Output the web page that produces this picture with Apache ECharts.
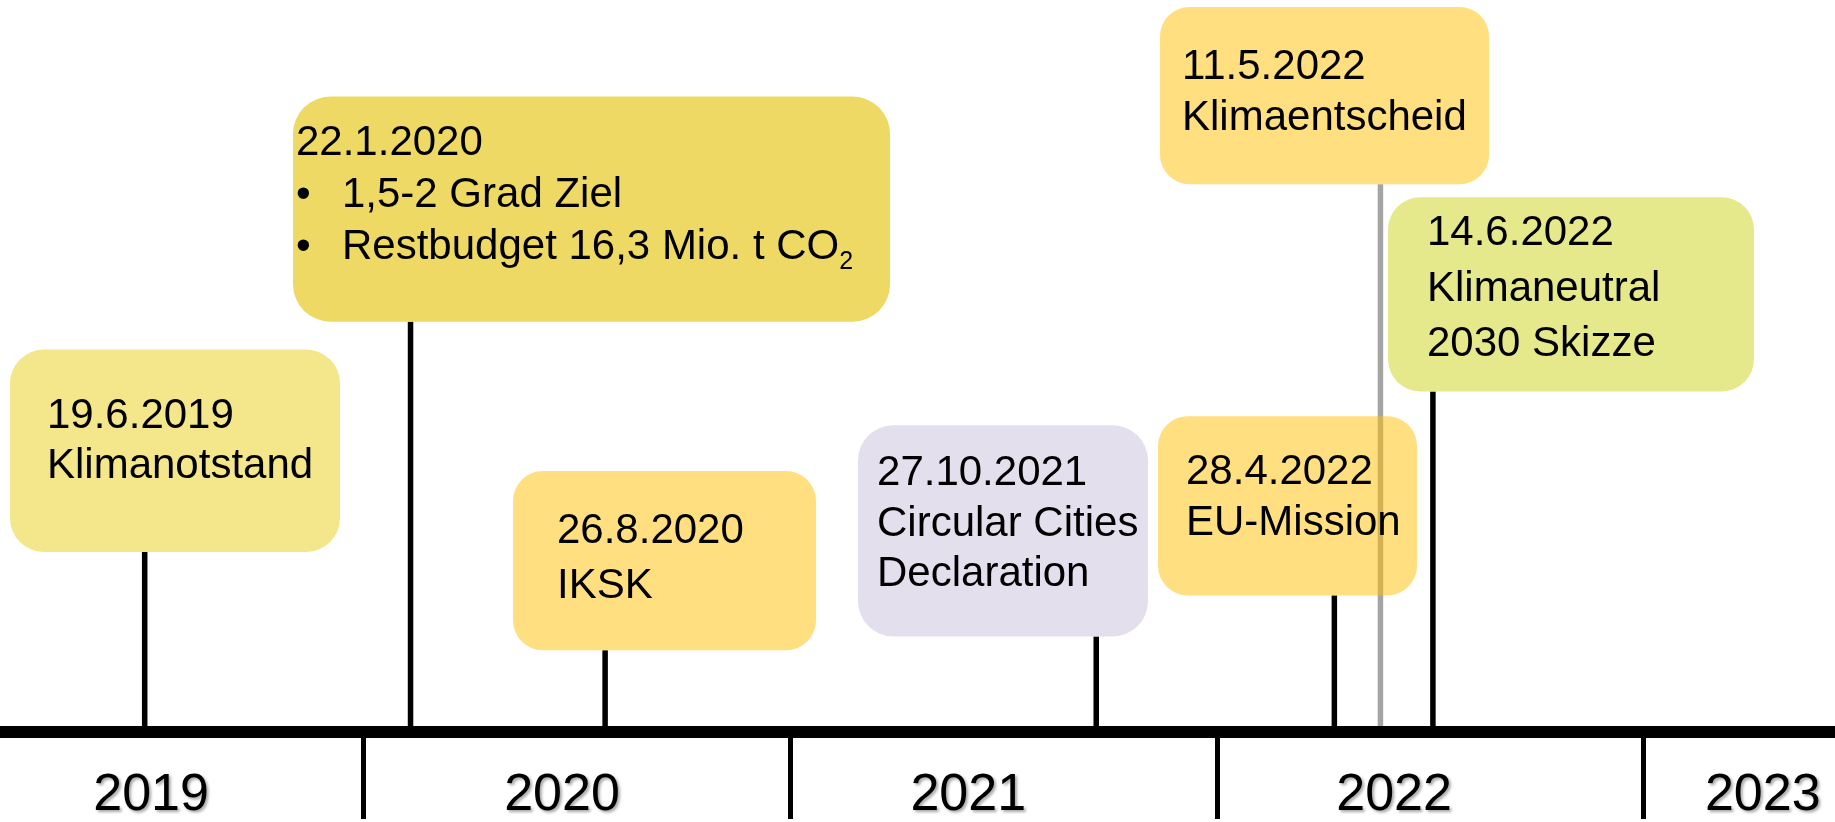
<!DOCTYPE html>
<html>
<head>
<meta charset="utf-8">
<script src="https://cdn.jsdelivr.net/npm/echarts@6/dist/echarts.min.js"></script>
<style>
html,body{margin:0;padding:0;background:#ffffff;}
#chart{width:1835px;height:822px;}
</style>
</head>
<body>
<div id="chart"></div>
<script>
// ---------------- DATA ----------------
const eventDates  = ['19.6.2019', '22.1.2020', '26.8.2020', '27.10.2021', '28.4.2022', '11.5.2022', '14.6.2022'];
const eventTitles = [
  ['Klimanotstand'],
  ['• 1,5-2 Grad Ziel', '• Restbudget 16,3 Mio. t CO₂'],
  ['IKSK'],
  ['Circular Cities', 'Declaration'],
  ['EU-Mission'],
  ['Klimaentscheid'],
  ['Klimaneutral', '2030 Skizze']
];
// position of each event marker on the (hand-drawn) time axis, in years
const eventPos   = [2019.487, 2020.110, 2020.566, 2021.717, 2022.275, 2022.383, 2022.506];
// height of each marker stem (0 = time axis, 100 = top)
const eventLevel = [24.6, 56.05, 11.16, 13.06, 18.64, 74.83, 46.53];

const yearLabels     = ['2019', '2020', '2021', '2022', '2023'];
const yearLabelPos   = [2019.502, 2020.465, 2021.417, 2022.415, 2023.279];
const yearBoundaries = [2020, 2021, 2022, 2023];

// ---------------- LAYOUT / STYLE ----------------
// box extent in axis units: [xStart, xEnd, yTop]; bottom = stem height
const boxSpan = [
  [2019.1713, 2019.9447, 52.24],
  [2019.8345, 2021.2338, 86.80],
  [2020.3501, 2021.0602, 35.65],
  [2021.1587, 2021.8383, 41.90],
  [2021.8617, 2022.4688, 43.13],
  [2021.8664, 2022.6375, 99.05],
  [2022.4007, 2023.2585, 73.06]
];
const boxColor = ['#F3E68B', '#EDD963', 'rgba(255,192,0,0.5)', '#E4DFEC',
                  'rgba(255,192,0,0.5)', 'rgba(255,192,0,0.5)', '#E5E98B'];
// [text left padding px, first baseline offset px, line gap px]
const textLayout = [[37, 81, 50], [3, 61, 52], [44, 75, 55], [19, 63, 50.5],
                    [28, 71, 51], [22, 75, 51.5], [39, 51, 55.5]];
const stemColor = ['#000', '#000', '#000', '#000', '#000', '#A5A5A5', '#000'];

const FAMILY = '"Liberation Sans", Arial, sans-serif';
const FONT = '42px ' + FAMILY;
const MID = 14.6;      // baseline -> middle offset for 42px
const BULLET_INDENT = 46;

const chart = echarts.init(document.getElementById('chart'), null, {renderer: 'canvas'});

function renderStem(params, api) {
  const i = params.dataIndex;
  const top = api.coord([api.value(0), api.value(1)]);
  const bot = api.coord([api.value(0), 0]);
  return {
    type: 'line',
    shape: {x1: top[0], y1: top[1], x2: bot[0], y2: bot[1]},
    style: {stroke: stemColor[i], lineWidth: 5.5}
  };
}

function renderBox(params, api) {
  const i = params.dataIndex;
  const s = boxSpan[i];
  const p0 = api.coord([s[0], s[2]]);
  const p1 = api.coord([s[1], api.value(1)]);
  const w = p1[0] - p0[0], h = p1[1] - p0[1];
  const r = Math.min(w, h) * 0.1667;
  const children = [{
    type: 'rect',
    shape: {x: p0[0], y: p0[1], width: w, height: h, r: r},
    style: {fill: boxColor[i]}
  }];
  const tl = textLayout[i];
  const lines = [eventDates[i]].concat(eventTitles[i]);
  lines.forEach(function (ln, k) {
    const y = p0[1] + tl[1] + k * tl[2] - MID;
    let x = p0[0] + tl[0];
    let txt = ln;
    if (txt.indexOf('• ') === 0) {
      children.push({type: 'text', style: {text: '•', x: x, y: y, font: FONT, fill: '#000',
        align: 'left', verticalAlign: 'middle'}});
      x += BULLET_INDENT;
      txt = txt.slice(2);
    }
    const style = {x: x, y: y, font: FONT, fill: '#000', align: 'left', verticalAlign: 'middle', lineHeight: 52};
    if (txt.indexOf('₂') >= 0) {
      style.text = txt.replace('₂', '{sub|2}');
      style.rich = {sub: {font: '25px ' + FAMILY, fill: '#000', padding: [30, 0, 0, 0], lineHeight: 52}};
    } else {
      style.text = txt;
    }
    children.push({type: 'text', style: style});
  });
  return {type: 'group', children: children};
}

const seriesData = eventPos.map(function (p, i) { return [p, eventLevel[i]]; });

chart.setOption({
  animation: false,
  backgroundColor: '#ffffff',
  grid: {left: 0, right: 0, top: 0, bottom: 87},
  xAxis: {
    type: 'value',
    min: 2019.1479,
    max: 2023.4483,
    z: 10,
    axisLine: {show: true, onZero: false, lineStyle: {color: '#000', width: 12}},
    axisTick: {show: true, customValues: yearBoundaries, length: 87, inside: false,
      lineStyle: {color: '#000', width: 5}},
    axisLabel: {
      customValues: yearLabelPos,
      formatter: function (v) {
        let best = 0, d = Infinity;
        yearLabelPos.forEach(function (p, k) { if (Math.abs(p - v) < d) { d = Math.abs(p - v); best = k; } });
        return yearLabels[best];
      },
      margin: 38,
      fontSize: 52,
      lineHeight: 52,
      fontFamily: FAMILY,
      color: '#000',
      verticalAlign: 'top',
      textShadowColor: 'rgba(0,0,0,0.35)',
      textShadowBlur: 3,
      textShadowOffsetX: 2,
      textShadowOffsetY: 2
    },
    splitLine: {show: false}
  },
  yAxis: {type: 'value', min: 0, max: 100, show: false},
  series: [
    {type: 'custom', name: 'stems', z: 1, renderItem: renderStem, data: seriesData, silent: true},
    {type: 'custom', name: 'events', z: 2, renderItem: renderBox, data: seriesData, silent: true}
  ]
});
</script>
</body>
</html>
